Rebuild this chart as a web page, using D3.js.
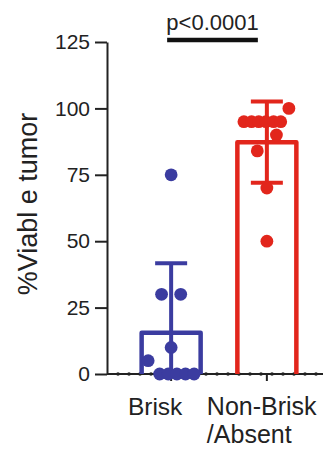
<!DOCTYPE html>
<html>
<head>
<meta charset="utf-8">
<script src="https://cdn.jsdelivr.net/npm/d3@7"></script>
<style>
  body { margin: 0; background: #fff; }
  svg text { font-family: 'Liberation Sans', Arial, sans-serif; fill: #222; }
</style>
</head>
<body>
<div id="chart"></div>
<script>
// data
const categories = ['Brisk', 'Non-Brisk/Absent'];
const means = [15.5, 87.3];
const sds = [26.2, 15.3];
const briskValues = [75, 30, 30, 10, 5, 0, 0, 0, 0, 0];
const briskJitter = [0, -0.1, 0.1, 0, -0.24, -0.12, -0.03, 0.06, 0.15, 0.24];
const nonBriskValues = [100, 95, 95, 95, 95, 95, 95, 90, 84, 70, 50];
const nonBriskJitter = [0.23, -0.24, -0.16, -0.085, -0.01, 0.07, 0.145, 0.1, -0.1, 0, 0];
const yTicks = [0, 25, 50, 75, 100, 125];
const pLabel = 'p<0.0001';
const colors = ['#3b3ca0', '#e2261c'];

const width = 327, height = 453;
const svg = d3.select('#chart').append('svg')
  .attr('width', width).attr('height', height);

// scales
const y = d3.scaleLinear().domain([0, 125]).range([374, 42]);
const x = d3.scalePoint().domain(categories).range([107, 331]).padding(0.67);
const step = x.step();

// y axis
const yAxis = svg.append('g')
  .attr('transform', 'translate(107,0)')
  .call(d3.axisLeft(y).tickValues(yTicks).tickSize(12).tickSizeOuter(0).tickPadding(5));
yAxis.select('.domain').attr('stroke', '#222').attr('stroke-width', 2);
yAxis.selectAll('.tick line').attr('stroke', '#222').attr('stroke-width', 2);
yAxis.selectAll('.tick text').style('font-size', '21px').attr('fill', '#222');

// x axis with minor dots
const xMinor = d3.scaleLinear().domain([0, 20]).range([107, 327]);
const xAxis = svg.append('g').attr('transform', 'translate(0,' + y(0) + ')');
xAxis.append('line').attr('x1', 107).attr('x2', 323)
  .attr('stroke', '#222').attr('stroke-width', 2);
xAxis.selectAll('.minor').data(d3.range(1, 20)).enter().append('circle')
  .attr('cx', d => xMinor(d)).attr('cy', 0).attr('r', 1.8).attr('fill', '#222');
xAxis.selectAll('.major').data(categories).enter().append('line')
  .attr('x1', d => x(d)).attr('x2', d => x(d)).attr('y1', 0).attr('y2', 7)
  .attr('stroke', '#222').attr('stroke-width', 2);

// bars
const barW = 59;
svg.selectAll('.bar').data(categories).enter().append('path')
  .attr('d', (d, i) => {
    const x0 = x(d) - barW / 2, x1 = x(d) + barW / 2;
    return 'M' + x0 + ',' + y(0) + 'V' + y(means[i]) + 'H' + x1 + 'V' + y(0);
  })
  .attr('fill', 'none').attr('stroke', (d, i) => colors[i]).attr('stroke-width', 4.5)
  .attr('stroke-linejoin', 'round');

// error bars (clipped at zero)
const capW = 32;
categories.forEach(function (c, i) {
  const hi = means[i] + sds[i];
  const lo = Math.max(0, means[i] - sds[i]);
  const g = svg.append('g').attr('stroke', colors[i]).attr('stroke-width', 4);
  g.append('line').attr('x1', x(c)).attr('x2', x(c)).attr('y1', y(hi)).attr('y2', y(lo));
  g.append('line').attr('x1', x(c) - capW / 2).attr('x2', x(c) + capW / 2)
    .attr('y1', y(hi)).attr('y2', y(hi));
  if (means[i] - sds[i] > 0) {
    g.append('line').attr('x1', x(c) - capW / 2).attr('x2', x(c) + capW / 2)
      .attr('y1', y(lo)).attr('y2', y(lo));
  }
});

// points
const groups = [
  { values: briskValues, jitter: briskJitter },
  { values: nonBriskValues, jitter: nonBriskJitter }
];
groups.forEach(function (grp, i) {
  svg.append('g').selectAll('circle').data(grp.values).enter().append('circle')
    .attr('cx', (d, j) => x(categories[i]) + grp.jitter[j] * step)
    .attr('cy', d => y(d))
    .attr('r', 6.4)
    .attr('fill', colors[i]);
});

// category labels
svg.append('text').attr('x', x(categories[0]) - 16).attr('y', 415)
  .attr('text-anchor', 'middle').style('font-size', '24.5px').text('Brisk');
svg.append('text').attr('x', x(categories[1]) - 60).attr('y', 415)
  .style('font-size', '25px').text('Non-Brisk');
svg.append('text').attr('x', x(categories[1]) - 60).attr('y', 443)
  .style('font-size', '25px').text('/Absent');

// y axis title
svg.append('text')
  .attr('transform', 'translate(37,204) rotate(-90)')
  .attr('text-anchor', 'middle').style('font-size', '27px')
  .text('%Viabl e tumor');

// significance bar
const px0 = x(categories[0]) - 4, px1 = x(categories[1]) - 9;
svg.append('line').attr('x1', px0).attr('x2', px1).attr('y1', 40).attr('y2', 40)
  .attr('stroke', '#111').attr('stroke-width', 4.5);
svg.append('text').attr('x', (px0 + px1) / 2).attr('y', 30)
  .attr('text-anchor', 'middle').style('font-size', '22px').text(pLabel);
</script>
</body>
</html>
